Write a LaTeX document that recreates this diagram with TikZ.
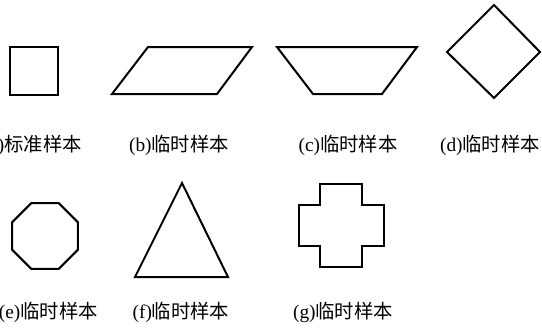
\documentclass[tikz,border=0pt]{standalone}
\usepackage{fontspec}
\setmainfont{Liberation Serif}
\newfontfamily\cjk{Noto Sans CJK SC}
\usetikzlibrary{positioning}
\tikzset{
  outline/.style={draw=black, line width=1.5pt, line join=miter},
  capnode/.style={font=\fontsize{14.5}{16}\selectfont, inner sep=0pt},
}
\newcommand{\samp}[2]{(#1){\cjk #2}}

\begin{document}
\begin{tikzpicture}[x=0.75pt,y=-0.75pt]
\useasboundingbox (0,0) rectangle (542,329);
\clip (0,0) rectangle (542,329);
\fill[white] (0,0) rectangle (542,329);

% ── row 1: shapes ──
\draw[outline] (10,47) rectangle (58,95);
\draw[outline] (148,47) -- (252,47) -- (217,94) -- (112,94) -- cycle;
\draw[outline] (277,47) -- (417,47) -- (382,94) -- (313,94) -- cycle;
\draw[outline] (494,5) -- (540,52) -- (494,98) -- (447,52) -- cycle;

% ── row 1: labels ──
\node[capnode, anchor=east] (capA) at (82,145) {\samp{a}{标准样本}};
\node[capnode] (capB) at (179,145) {\samp{b}{临时样本}};
\node[capnode] (capC) at (348,145) {\samp{c}{临时样本}};
\node[capnode] (capD) at (490,145) {\samp{d}{临时样本}};

% ── row 2: shapes ──
\draw[outline] (45,236) +(22.5:35.7)
  \foreach \k in {1,...,7} { -- +(22.5+45*\k:35.7) } -- cycle;
\draw[outline] (182,183) -- (228,277) -- (135,277) -- cycle;
\draw[outline] (320,184) -- (362,184) -- (362,205) -- (384,205)
  -- (384,246) -- (362,246) -- (362,267) -- (320,267) -- (320,246)
  -- (299,246) -- (299,205) -- (320,205) -- cycle;

% ── row 2: labels ──
\node[capnode, anchor=east] (capE) at (98,312) {\samp{e}{临时样本}};
\node[capnode] (capF) at (181,312) {\samp{f}{临时样本}};
\node[capnode] (capG) at (343,312) {\samp{g}{临时样本}};

\end{tikzpicture}
\end{document}
